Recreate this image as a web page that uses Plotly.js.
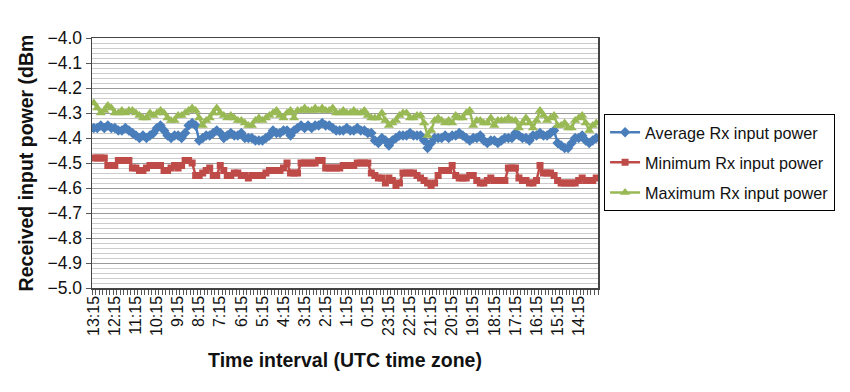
<!DOCTYPE html>
<html>
<head>
<meta charset="utf-8">
<script src="https://cdn.plot.ly/plotly-3.0.1.min.js"></script>
<style>html,body{margin:0;padding:0;background:#fff;}#chart{width:850px;height:392px;}</style>
</head>
<body>
<div id="chart"></div>
<script>
// Tick labels (one every 6 ten-minute categories), newest first
const tickLabels = ["13:15","12:15","11:15","10:15","9:15","8:15","7:15","6:15","5:15","4:15","3:15","2:15",
  "1:15","0:15","23:15","22:15","21:15","20:15","19:15","18:15","17:15","16:15","15:15","14:15"];

const avgPower = [
 -4.36,-4.36,-4.35,-4.36,-4.35,-4.36,-4.36,-4.37,-4.37,-4.36,
 -4.37,-4.38,-4.39,-4.40,-4.39,-4.40,-4.39,-4.38,-4.36,-4.35,
 -4.37,-4.39,-4.40,-4.39,-4.39,-4.40,-4.38,-4.35,-4.34,-4.35,
 -4.41,-4.40,-4.39,-4.39,-4.38,-4.37,-4.38,-4.40,-4.39,-4.38,
 -4.39,-4.39,-4.38,-4.40,-4.40,-4.40,-4.41,-4.41,-4.41,-4.40,
 -4.39,-4.37,-4.38,-4.38,-4.37,-4.37,-4.39,-4.37,-4.36,-4.35,
 -4.36,-4.35,-4.36,-4.35,-4.35,-4.34,-4.35,-4.35,-4.36,-4.37,
 -4.37,-4.37,-4.36,-4.37,-4.37,-4.36,-4.37,-4.37,-4.38,-4.38,
 -4.41,-4.42,-4.40,-4.41,-4.43,-4.41,-4.40,-4.39,-4.39,-4.39,
 -4.38,-4.39,-4.39,-4.39,-4.41,-4.44,-4.42,-4.40,-4.40,-4.40,
 -4.39,-4.40,-4.39,-4.39,-4.38,-4.39,-4.40,-4.41,-4.40,-4.40,
 -4.39,-4.41,-4.42,-4.41,-4.41,-4.42,-4.41,-4.40,-4.40,-4.40,
 -4.38,-4.39,-4.40,-4.40,-4.41,-4.39,-4.39,-4.38,-4.39,-4.39,
 -4.38,-4.37,-4.42,-4.43,-4.44,-4.44,-4.42,-4.40,-4.40,-4.39,
 -4.41,-4.42,-4.41,-4.40];

const minPower = [
 -4.48,-4.48,-4.48,-4.48,-4.51,-4.51,-4.51,-4.49,-4.49,-4.49,
 -4.49,-4.52,-4.52,-4.53,-4.53,-4.52,-4.51,-4.51,-4.51,-4.51,
 -4.53,-4.53,-4.52,-4.51,-4.52,-4.51,-4.49,-4.49,-4.50,-4.55,
 -4.55,-4.54,-4.53,-4.52,-4.55,-4.55,-4.51,-4.53,-4.55,-4.55,
 -4.54,-4.54,-4.55,-4.55,-4.56,-4.55,-4.55,-4.55,-4.55,-4.54,
 -4.53,-4.53,-4.53,-4.53,-4.52,-4.50,-4.54,-4.54,-4.54,-4.50,
 -4.50,-4.50,-4.50,-4.50,-4.49,-4.49,-4.52,-4.52,-4.52,-4.52,
 -4.52,-4.51,-4.51,-4.51,-4.51,-4.50,-4.50,-4.50,-4.50,-4.54,
 -4.55,-4.56,-4.56,-4.58,-4.56,-4.57,-4.59,-4.58,-4.54,-4.54,
 -4.54,-4.54,-4.55,-4.56,-4.57,-4.58,-4.59,-4.58,-4.55,-4.53,
 -4.53,-4.53,-4.51,-4.55,-4.56,-4.56,-4.56,-4.55,-4.55,-4.57,
 -4.58,-4.58,-4.57,-4.56,-4.57,-4.57,-4.57,-4.57,-4.52,-4.52,
 -4.52,-4.56,-4.57,-4.57,-4.58,-4.58,-4.57,-4.51,-4.54,-4.54,
 -4.54,-4.55,-4.57,-4.58,-4.58,-4.58,-4.58,-4.58,-4.57,-4.56,
 -4.57,-4.57,-4.57,-4.56];

const maxPower = [
 -4.26,-4.28,-4.30,-4.29,-4.27,-4.28,-4.30,-4.30,-4.29,-4.30,
 -4.29,-4.29,-4.30,-4.31,-4.32,-4.32,-4.30,-4.31,-4.30,-4.29,
 -4.30,-4.32,-4.33,-4.33,-4.31,-4.31,-4.30,-4.29,-4.28,-4.29,
 -4.32,-4.35,-4.33,-4.32,-4.30,-4.28,-4.30,-4.31,-4.32,-4.31,
 -4.32,-4.33,-4.33,-4.34,-4.35,-4.35,-4.33,-4.32,-4.33,-4.32,
 -4.31,-4.30,-4.29,-4.31,-4.32,-4.30,-4.29,-4.32,-4.29,-4.29,
 -4.28,-4.29,-4.29,-4.28,-4.29,-4.28,-4.29,-4.29,-4.28,-4.30,
 -4.30,-4.29,-4.30,-4.30,-4.29,-4.30,-4.30,-4.29,-4.31,-4.32,
 -4.32,-4.32,-4.30,-4.33,-4.35,-4.34,-4.33,-4.31,-4.30,-4.30,
 -4.32,-4.32,-4.31,-4.31,-4.34,-4.39,-4.37,-4.33,-4.32,-4.33,
 -4.34,-4.33,-4.34,-4.31,-4.32,-4.32,-4.30,-4.29,-4.35,-4.33,
 -4.33,-4.34,-4.34,-4.32,-4.35,-4.33,-4.33,-4.33,-4.32,-4.33,
 -4.33,-4.36,-4.34,-4.32,-4.34,-4.36,-4.33,-4.29,-4.31,-4.33,
 -4.32,-4.31,-4.35,-4.35,-4.34,-4.36,-4.36,-4.33,-4.32,-4.31,
 -4.34,-4.37,-4.35,-4.34];

const labelStep = 6;
const xIdx = avgPower.map((_, i) => i);
const tickPos = tickLabels.map((_, k) => k * labelStep);

const FONT = 'Liberation Sans, Arial, sans-serif';

const traces = [
  {x: xIdx, y: avgPower, name: 'Average Rx input power', type: 'scatter', mode: 'lines+markers',
   legendgroup: 'a', line: {color: '#4A7EBB', width: 2.5}, marker: {symbol: 'diamond', size: 8, color: '#4A7EBB'}},
  {x: xIdx, y: minPower, name: 'Minimum Rx input power', type: 'scatter', mode: 'lines+markers',
   legendgroup: 'b', line: {color: '#BE4B48', width: 2.5}, marker: {symbol: 'square', size: 7, color: '#BE4B48'}},
  {x: xIdx, y: maxPower, name: 'Maximum Rx input power', type: 'scatter', mode: 'lines+markers',
   legendgroup: 'c', line: {color: '#98B954', width: 2.5}, marker: {symbol: 'triangle-up', size: 9, color: '#98B954'}}
];

const layout = {
  width: 850, height: 392,
  margin: {l: 92, r: 252, t: 38, b: 104},
  paper_bgcolor: '#ffffff', plot_bgcolor: '#ffffff',
  font: {family: FONT, color: '#111'},
  showlegend: true,
  legend: {x: 1.012, xanchor: 'left', y: 0.695, yanchor: 'top',
    bordercolor: '#000', borderwidth: 1, bgcolor: '#fff',
    font: {family: FONT, size: 16.2, color: '#111'},
    traceorder: 'grouped', tracegroupgap: 6},
  xaxis: {
    range: [-0.5, avgPower.length - 0.5],
    tickmode: 'array', tickvals: tickPos, ticktext: tickLabels,
    tickangle: -90, ticks: '', tickfont: {family: FONT, size: 16, color: '#111'},
    minor: {tickmode: 'linear', tick0: -0.5, dtick: 1, ticks: 'outside', ticklen: 5, tickcolor: '#555', showgrid: false},
    showgrid: false, zeroline: false,
    showline: true, mirror: true, linecolor: '#444', linewidth: 1.5,
    title: {text: 'Time interval (UTC time zone)', font: {family: FONT, size: 19.5, color: '#111', weight: 'bold'}, standoff: 18}
  },
  yaxis: {
    range: [-5.0, -4.0], dtick: 0.1, tick0: -5.0, tickformat: '.1f',
    ticks: 'outside', ticklen: 5, tickcolor: '#555',
    tickfont: {family: FONT, size: 17.5, color: '#111'},
    showgrid: true, gridcolor: '#9a9a9a', gridwidth: 1,
    minor: {tick0: -5.0, dtick: 0.02, showgrid: true, gridcolor: '#cccccc', gridwidth: 1},
    zeroline: false,
    showline: true, mirror: true, linecolor: '#444', linewidth: 1.5,
    title: {text: 'Received input power (dBm', font: {family: FONT, size: 19.5, color: '#111', weight: 'bold'}, standoff: 8}
  }
};

Plotly.newPlot('chart', traces, layout, {displayModeBar: false, staticPlot: true});
</script>
</body>
</html>
